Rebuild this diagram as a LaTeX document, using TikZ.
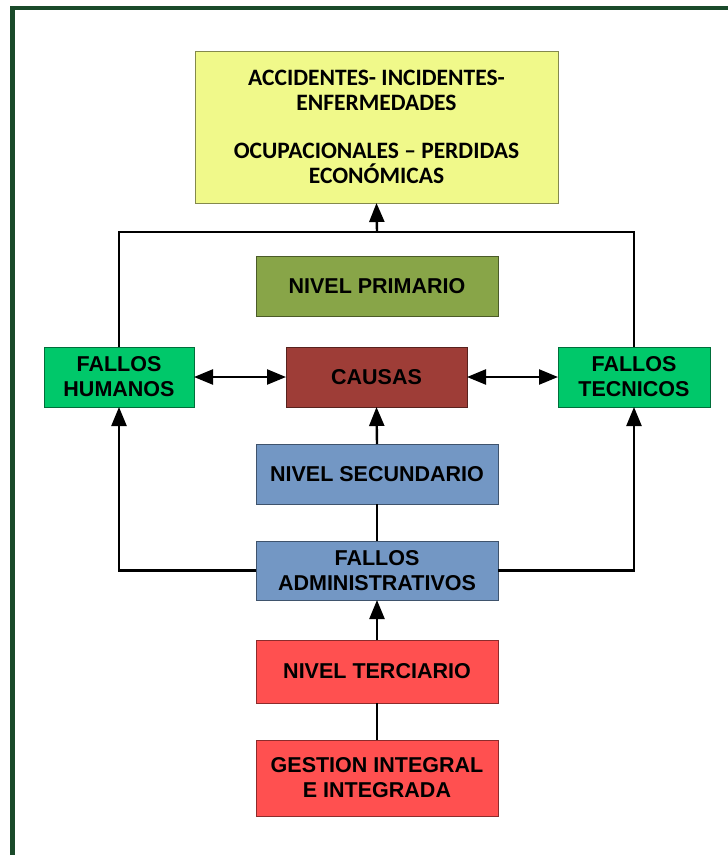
\documentclass[tikz,border=0pt]{standalone}
\usepackage{fontspec}
\setmainfont{Liberation Sans}
\newfontfamily\calibri{Carlito}
\usetikzlibrary{arrows.meta}

\definecolor{frameGreen}{HTML}{1A4A2A}
\definecolor{lightYellow}{HTML}{F0F98A}
\definecolor{oliveGreen}{HTML}{88A548}
\definecolor{brightGreen}{HTML}{00C86A}
\definecolor{brickRed}{HTML}{9E3D37}
\definecolor{steelBlue}{HTML}{7397C4}
\definecolor{salmonRed}{HTML}{FF5050}

\tikzset{
  box/.style={draw=#1!55!black, fill=#1, line width=0.7pt, outer sep=0pt,
    inner sep=2pt, align=center, text=black,
    font=\fontsize{21.5}{25}\selectfont\bfseries},
  link/.style={line width=2.4pt, draw=black},
  tip/.tip={Triangle[length=19pt,width=15pt]},
  arr/.style={link, -tip},
  darr/.style={link, tip-tip},
}

\begin{document}
\begin{tikzpicture}[x=1pt, y=-1pt]
  \useasboundingbox (0,0) rectangle (728,855);
  \fill[white] (0,0) rectangle (728,855);

  % outer frame (runs past the right and bottom edges)
  \draw[frameGreen, line width=4.5pt] (12.5,8) rectangle (760,900);

  % boxes
  \node[box=lightYellow, minimum width=363pt, minimum height=152pt,
        font=\calibri\fontsize{23.5}{25}\selectfont\bfseries]
    (top) at (376.5,127)
    {ACCIDENTES- INCIDENTES-\\ENFERMEDADES\\[23pt]OCUPACIONALES – PERDIDAS\\ECONÓMICAS};

  \node[box=oliveGreen, minimum width=242pt, minimum height=60pt]
    (prim) at (377,286.5) {NIVEL PRIMARIO};

  \node[box=brightGreen, minimum width=150pt, minimum height=60pt]
    (fh) at (119,377) {FALLOS\\HUMANOS};
  \node[box=brickRed, minimum width=181pt, minimum height=60pt]
    (causas) at (376.5,377) {CAUSAS};
  \node[box=brightGreen, minimum width=152pt, minimum height=60pt]
    (ft) at (634,377) {FALLOS\\TECNICOS};

  \node[box=steelBlue, minimum width=242pt, minimum height=60pt]
    (sec) at (377,474) {NIVEL SECUNDARIO};
  \node[box=steelBlue, minimum width=242pt, minimum height=59pt]
    (adm) at (377,570.5) {FALLOS\\ADMINISTRATIVOS};

  \node[box=salmonRed, minimum width=242pt, minimum height=63pt]
    (ter) at (377,671.5) {NIVEL TERCIARIO};
  \node[box=salmonRed, minimum width=242pt, minimum height=76pt]
    (gi) at (377,778) {GESTION INTEGRAL\\E INTEGRADA};

  % connectors
  \coordinate (junc) at (377,232);
  \draw[link] (fh.north) |- (junc) -| (ft.north);
  \draw[arr] (junc) -- (top.south);

  \draw[darr] (fh.east) -- (causas.west);
  \draw[darr] (causas.east) -- (ft.west);

  \draw[arr] (sec.north) -- (causas.south);
  \draw[link] (sec.south) -- (adm.north);

  \draw[arr] (adm.west) -| (fh.south);
  \draw[arr] (adm.east) -| (ft.south);

  \draw[arr] (ter.north) -- (adm.south);
  \draw[link] (ter.south) -- (gi.north);
\end{tikzpicture}
\end{document}
